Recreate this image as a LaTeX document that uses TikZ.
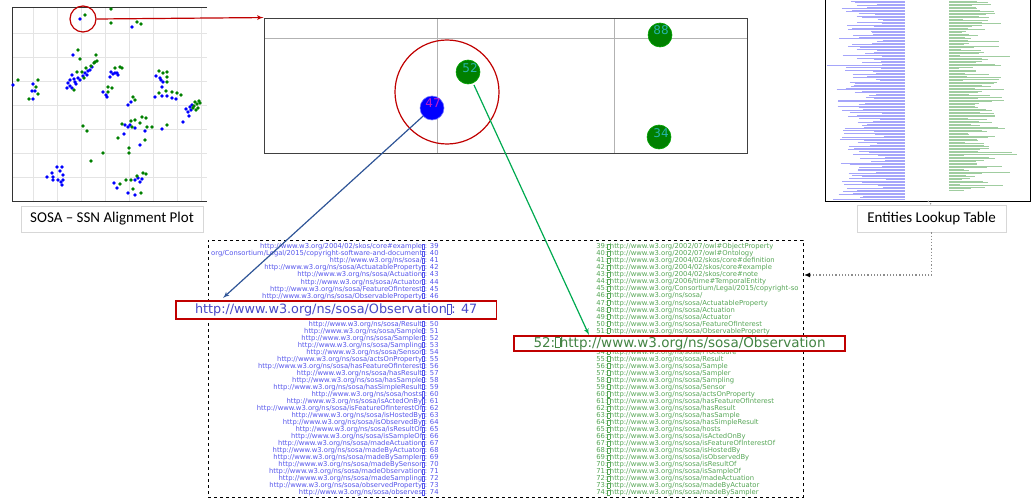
\documentclass[tikz,border=0pt]{standalone}
\usepackage{fontspec}
\setmainfont{DejaVu Sans}
\newfontfamily\capfont{Carlito}
\usetikzlibrary{arrows,arrows.meta,positioning,calc}

\definecolor{dotblue}{RGB}{0,0,255}
\definecolor{dotgreen}{RGB}{0,128,0}
\definecolor{selred}{RGB}{192,0,0}
\definecolor{entblue}{RGB}{85,85,235}
\definecolor{entgreen}{RGB}{85,165,85}
\definecolor{arrblue}{RGB}{47,85,151}
\definecolor{arrgreen}{RGB}{0,170,80}
\definecolor{lblteal}{RGB}{40,180,170}
\definecolor{lblmag}{RGB}{190,30,200}
\definecolor{gridgray}{RGB}{228,228,228}
\definecolor{capgray}{RGB}{215,215,215}
\definecolor{tabblue}{RGB}{165,165,250}
\definecolor{tabgreen}{RGB}{160,205,160}

% missing-glyph box
\newcommand{\nb}{{\fboxsep=0pt\fboxrule=0.3pt\fbox{\rule{0pt}{0.7em}\rule{0.3em}{0pt}}}}
\newcommand{\entsize}{\fontsize{6.8}{7}\selectfont}

\begin{document}
\begin{tikzpicture}[x=1pt, y=-1pt, >=latex', thick,
  pdot/.style={circle, inner sep=0, minimum size=3.6},
  zdot/.style={circle, inner sep=0, minimum size=24, line width=0.6pt},
  dotlbl/.style={font=\fontsize{12}{12}\selectfont, inner sep=0},
  capbox/.style={draw=capgray, line width=0.6pt, font=\capfont\fontsize{15}{18}\selectfont, inner sep=0},
  leftent/.style={anchor=east, font=\entsize, text=entblue, inner sep=0},
  rightent/.style={anchor=west, font=\entsize, text=entgreen, inner sep=0},
  bigent/.style={draw=selred, line width=1.3pt, fill=white, inner ysep=0},
  dotline/.style={draw=black!45, dotted, line width=1.2pt}]
\useasboundingbox (0,0) rectangle (1032,500);

% alignment plot
\foreach \g in {33,57,81,105,129,153,177,201}
  \draw[gridgray, line width=0.5pt] (\g,7) -- (\g,201);
\foreach \g in {33,57,81,105,129,153,177}
  \draw[gridgray, line width=0.5pt] (12,\g) -- (207,\g);
\draw[black!80, line width=0.8pt] (207,7) -- (12,7) -- (12,201) -- (207,201);
\foreach \px/\py in {80/19,73/55,67/88,70/86,72/88,68/83,70/80,74/79,76/84,78/78,80/80,83/76,85/73,87/75,88/71,90/70,92/67,72/75,75/82,
  13/85,33/84,32/91,35/91,33/99,132/27,111/72,113/74,117/73,118/75,110/77,115/73,103/92,106/95,107/97,
  156/76,160/78,163/82,161/80,162/87,155/97,162/96,167/96,172/98,176/99,190/107,188/112,189/116,183/122,192/105,186/109,191/110,
  131/102,128/105,125/125,128/127,130/125,135/128,124/134,162/129,145/131,140/145,
  47/177,52/173,53/177,57/167,62/167,60/171,63/175,53/180,58/180,61/182,63/180,62/185,
  114/183,117/188,135/180,138/178,140/182,142/179,128/193,135/195}
  \fill[dotblue] (\px,\py) circle (1.8);
\foreach \px/\py in {85/15,78/50,80/59,96/55,97/61,95/62,18/80,38/80,36/87,38/94,29/99,77/72,82/72,84/78,74/90,91/66,94/63,86/68,
  111/9,111/23,137/22,141/24,115/68,122/68,120/67,108/87,112/88,108/92,
  159/71,163/73,167/72,167/77,167/82,159/93,166/91,172/92,177/93,181/95,
  195/102,197/104,199/101,194/106,198/108,196/110,200/103,193/108,133/97,135/100,
  135/120,131/121,142/117,146/118,140/123,122/124,147/127,152/127,132/127,118/138,167/125,145/140,129/148,129/153,103/153,
  83/126,87/131,91/161,120/184,126/180,131/180,137/176,143/173,146/174,133/189,141/193}
  \fill[dotgreen] (\px,\py) circle (1.8);
\node[circle, draw=selred, line width=1.2pt, minimum size=26, inner sep=0] (selcirc) at (83,19) {};
\node[capbox, minimum width=182, minimum height=26] (plotcap) at (112,219) {SOSA – SSN Alignment Plot};

% zoomed region
\draw[black!30, line width=0.7pt] (437,18) -- (437,153);
\draw[black!30, line width=0.7pt] (614,18) -- (614,153);
\draw[black!30, line width=0.7pt] (264,38) -- (747,38);
\node[draw=black!75, line width=0.9pt, minimum width=483, minimum height=135, inner sep=0] (zoom) at (505.5,85.5) {};
\node[circle, draw=selred, line width=1.2pt, minimum size=104, inner sep=0] (zoomcirc) at (447,92) {};
\node[zdot, fill=dotblue, draw=blue!55!white] (d47) at (432,108) {};
\node[zdot, fill=dotgreen, draw=green!65!black] (d52) at (468,72) {};
\node[zdot, fill=dotgreen, draw=green!65!black] (d88) at (660,35) {};
\node[zdot, fill=dotgreen, draw=green!65!black] (d34) at (659,137) {};
\node[dotlbl, text=lblmag] (l47) at (433,103) {47};
\node[dotlbl, text=lblteal] (l52) at (470,68) {52};
\node[dotlbl, text=lblteal] (l88) at (661,30) {88};
\node[dotlbl, text=lblteal] (l34) at (661,133) {34};
\draw[->, selred, line width=1.2pt] (selcirc.east) -- (zoom.north west);

% lookup table
\pgfmathsetseed{11}
\foreach \k in {0,...,132} {
  \pgfmathsetmacro{\ty}{1+\k*1.5}
  \pgfmathsetmacro{\tl}{min(18+45*rnd+20*rnd*rnd,78)}
  \draw[tabblue, line width=0.45pt] (905-\tl,\ty) -- (905,\ty);
}
\foreach \k in {0,...,126} {
  \pgfmathsetmacro{\ty}{1+\k*1.5}
  \pgfmathsetmacro{\tl}{8+40*rnd+25*rnd*rnd}
  \draw[tabgreen, line width=0.45pt] (949,\ty) -- (949+\tl,\ty);
}
\draw[black, line width=0.9pt] (825,-5) -- (825,201) -- (1030,201) -- (1030,-5);
\coordinate (tabbot) at (928,201);
\node[capbox, minimum width=149, minimum height=27] (tabcap) at (931.5,218.5) {Entities Lookup Table};
\draw[dotline] (tabbot) -- (tabcap.north);

% entity lists
\node[draw, dashed, line width=1pt, minimum width=595, minimum height=257, inner sep=0] (entlist) at (505.5,368.5) {};
\node[leftent] (le39) at (439,247) {http://www.w3.org/2004/02/skos/core\#example\nb: 39};
\node[leftent] (le40) at (439,254) {org/Consortium/Legal/2015/copyright-software-and-document\nb: 40};
\node[leftent] (le41) at (439,261) {http://www.w3.org/ns/sosa/\nb: 41};
\foreach \n/\t in {42/ActuatableProperty,43/Actuation,44/Actuator,45/FeatureOfInterest,46/ObservableProperty,
  50/Result,51/Sample,52/Sampler,53/Sampling,54/Sensor,55/actsOnProperty,56/hasFeatureOfInterest,57/hasResult,
  58/hasSample,59/hasSimpleResult,60/hosts,61/isActedOnBy,62/isFeatureOfInterestOf,63/isHostedBy,64/isObservedBy,
  65/isResultOf,66/isSampleOf,67/madeActuation,68/madeByActuator,69/madeBySampler,70/madeBySensor,
  71/madeObservation,72/madeSampling,73/observedProperty,74/observes}
  \node[leftent] (le\n) at (439,{247+(\n-39)*7.03}) {http://www.w3.org/ns/sosa/\t\nb: \n};
\node[rightent] (re39) at (596,247) {39:\nb{}http://www.w3.org/2002/07/owl\#ObjectProperty};
\node[rightent] (re40) at (596,254) {40:\nb{}http://www.w3.org/2002/07/owl\#Ontology};
\node[rightent] (re41) at (596,261) {41:\nb{}http://www.w3.org/2004/02/skos/core\#definition};
\node[rightent] (re42) at (596,268) {42:\nb{}http://www.w3.org/2004/02/skos/core\#example};
\node[rightent] (re43) at (596,275) {43:\nb{}http://www.w3.org/2004/02/skos/core\#note};
\node[rightent] (re44) at (596,282) {44:\nb{}http://www.w3.org/2006/time\#TemporalEntity};
\node[rightent] (re45) at (596,289) {45:\nb{}http://www.w3.org/Consortium/Legal/2015/copyright-so};
\node[rightent] (re46) at (596,296) {46:\nb{}http://www.w3.org/ns/sosa/};
\foreach \n/\t in {47/ActuatableProperty,48/Actuation,49/Actuator,50/FeatureOfInterest,51/ObservableProperty,
  54/Procedure,55/Result,56/Sample,57/Sampler,58/Sampling,59/Sensor,60/actsOnProperty,61/hasFeatureOfInterest,
  62/hasResult,63/hasSample,64/hasSimpleResult,65/hosts,66/isActedOnBy,67/isFeatureOfInterestOf,68/isHostedBy,
  69/isObservedBy,70/isResultOf,71/isSampleOf,72/madeActuation,73/madeByActuator,74/madeBySampler}
  \node[rightent] (re\n) at (596,{247+(\n-39)*7.03}) {\n:\nb{}http://www.w3.org/ns/sosa/\t};
\node[bigent, text=entblue!85!black, font=\fontsize{12.8}{13}\selectfont, anchor=east, inner xsep=19, minimum height=18] (obs47) at (497,310) {http://www.w3.org/ns/sosa/Observation\nb: 47};
\node[bigent, text=entgreen!80!black, font=\fontsize{13.5}{14}\selectfont, minimum width=331, minimum height=15] (obs52) at (679.5,343.5) {52:\nb{}http://www.w3.org/ns/sosa/Observation};

% connectors
\coordinate (tip47) at (223,298);
\coordinate (tip52) at (589,335);
\coordinate (lkin) at (804,275);
\draw[->, arrblue, line width=1.2pt] (d47) -- (tip47);
\draw[->, arrgreen, line width=1.2pt, shorten <=2pt] (d52) -- (tip52);
\draw[dotline, -{Latex[length=6pt, width=5pt, black]}] (tabcap.south) |- (lkin);
\end{tikzpicture}
\end{document}
